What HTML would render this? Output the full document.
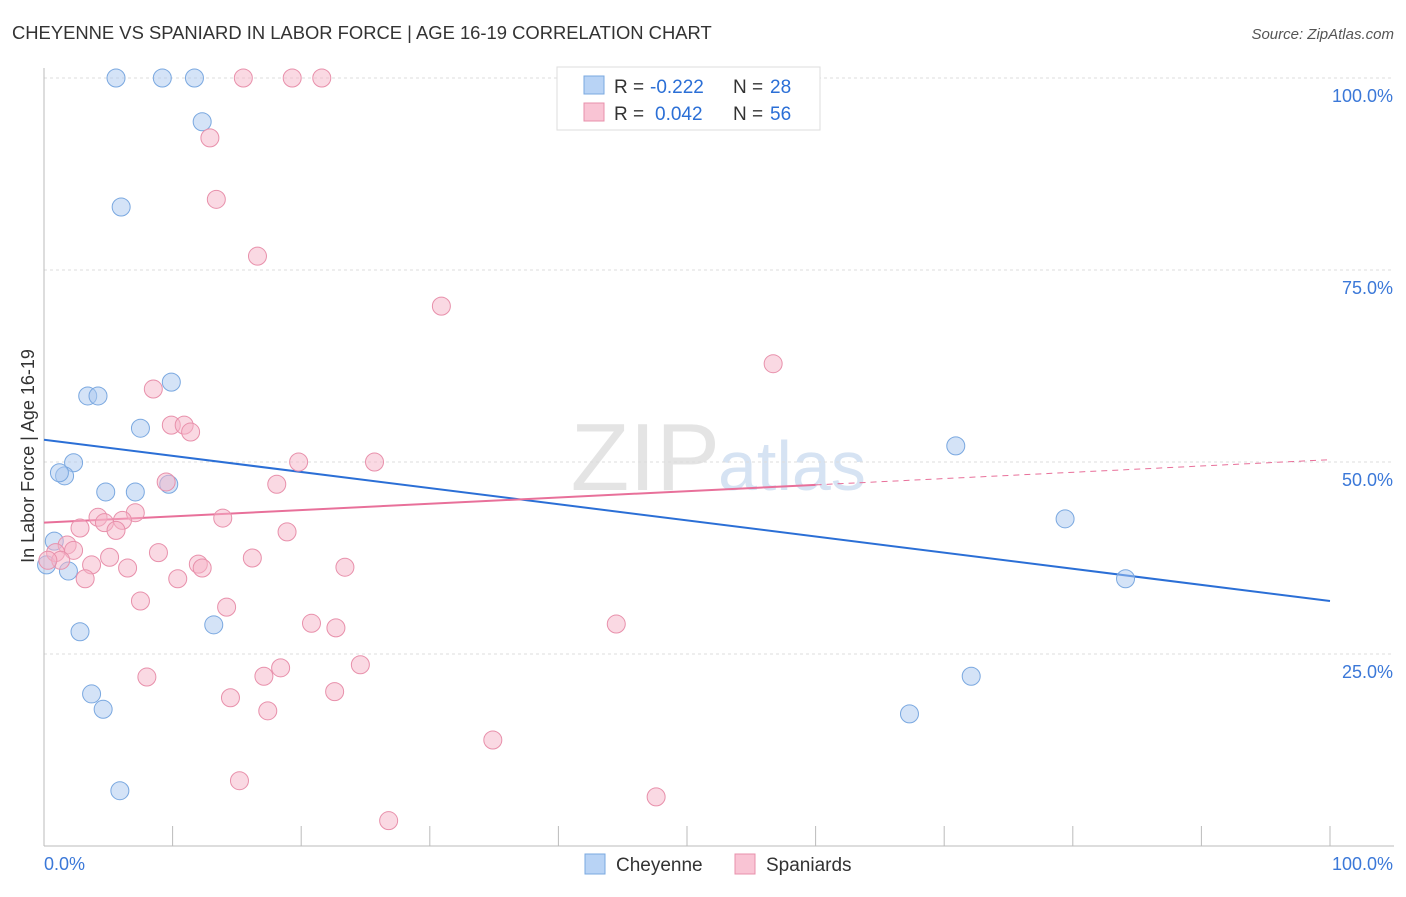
<!DOCTYPE html>
<html><head><meta charset="utf-8"><style>
body{margin:0;background:#fff;font-family:"Liberation Sans",sans-serif}
svg text{font-family:"Liberation Sans",sans-serif}
</style></head><body>
<svg id="chart" width="1406" height="892">
<text x="12" y="39" font-size="18.4" fill="#333">CHEYENNE VS SPANIARD IN LABOR FORCE | AGE 16-19 CORRELATION CHART</text>
<text x="1394" y="39" font-size="15" fill="#555" font-style="italic" text-anchor="end">Source: ZipAtlas.com</text>
<text x="720" y="490" font-size="96" fill="#e4e4e4" text-anchor="end" font-family="Liberation Serif">ZIP</text>
<text x="718" y="490" font-size="70" fill="#d6e3f3">atlas</text>
<g id="grid"></g><g id="axes"></g><g id="lines"></g><g id="pts"></g>
<text transform="translate(34,456) rotate(-90)" font-size="18" fill="#333" text-anchor="middle">In Labor Force | Age 16-19</text>
<g>
<rect x="557" y="67" width="263" height="63" fill="#fff" stroke="#ddd"/>
<rect x="584" y="76" width="20" height="18" fill="#b8d3f5" stroke="#7aa8e0"/>
<rect x="584" y="103" width="20" height="18" fill="#f9c4d4" stroke="#e890ab"/>
<text x="614" y="93" font-size="19" fill="#333">R =</text>
<text x="650" y="93" font-size="19" fill="#2b6fd6">-0.222</text>
<text x="733" y="93" font-size="19" fill="#333">N =</text>
<text x="770" y="93" font-size="19" fill="#2b6fd6">28</text>
<text x="614" y="120" font-size="19" fill="#333">R =</text>
<text x="655" y="120" font-size="19" fill="#2b6fd6">0.042</text>
<text x="733" y="120" font-size="19" fill="#333">N =</text>
<text x="770" y="120" font-size="19" fill="#2b6fd6">56</text>
</g>
<g>
<rect x="585" y="854" width="20" height="20" fill="#b8d3f5" stroke="#7aa8e0"/>
<text x="616" y="871" font-size="19" fill="#333">Cheyenne</text>
<rect x="735" y="854" width="20" height="20" fill="#f9c4d4" stroke="#e890ab"/>
<text x="766" y="871" font-size="19" fill="#333">Spaniards</text>
</g>
</svg>
<script>
const cheyX=[5.6,9.2,11.7,12.3,6.0,9.9,3.4,4.2,7.5,2.3,1.6,1.2,4.8,7.1,9.7,0.8,0.2,1.9,2.8,13.2,3.7,4.6,5.9,70.9,79.4,84.1,72.1,67.3];
const cheyY=[100,100,100,94.3,83.2,60.4,58.6,58.6,54.4,49.9,48.2,48.6,46.1,46.1,47.1,39.7,36.6,35.8,27.9,28.8,19.8,17.8,7.2,52.1,42.6,34.8,22.1,17.2];
const spanX=[15.5,19.3,21.6,40.7,12.9,13.4,16.6,30.9,56.7,8.5,9.9,10.9,11.4,19.8,25.7,9.5,18.1,4.2,7.1,6.1,2.8,4.7,5.6,13.9,18.9,1.8,2.3,0.9,1.3,8.9,5.1,16.2,12.0,12.3,3.7,6.5,23.4,3.2,10.4,7.5,14.2,20.8,22.7,44.5,18.4,24.6,8.0,17.1,22.6,14.5,17.4,34.9,15.2,47.6,26.8,0.3];
const spanY=[100,100,100,100,92.2,84.2,76.8,70.3,62.8,59.5,54.8,54.8,53.9,50.0,50.0,47.4,47.1,42.8,43.4,42.4,41.4,42.1,41.1,42.7,40.9,39.2,38.5,38.2,37.2,38.2,37.6,37.5,36.7,36.2,36.6,36.2,36.3,34.8,34.8,31.9,31.1,29.0,28.4,28.9,23.2,23.6,22.0,22.1,20.1,19.3,17.6,13.8,8.5,6.4,3.3,37.2];
const yTicks=[25,50,75,100];
const yTickLabels=["25.0%","50.0%","75.0%","100.0%"];
const xTicks=[0,10,20,30,40,50,60,70,80,90,100];
const cheyTrend=[52.9,31.9];
const spanTrend=[42.1,50.3];
const spanSolidEnd=60;
const sx=v=>44+v*12.86, sy=v=>846-v*7.68;
const NS="http://www.w3.org/2000/svg";
function mk(tag,attrs,parent){const e=document.createElementNS(NS,tag);for(const k in attrs)e.setAttribute(k,attrs[k]);document.getElementById(parent).appendChild(e);return e;}
yTicks.forEach((t,i)=>{
 const l=mk('line',{x1:44,x2:1394,y1:sy(t),y2:sy(t),stroke:'#ddd','stroke-dasharray':'3,3'},'grid');
 
 
 const tx=mk('text',{x:1393,y:sy(t)+24,'font-size':18,fill:'#3b78d8','text-anchor':'end'},'axes');
 tx.textContent=yTickLabels[i];
 
 
});
let ax=mk('line',{x1:44,x2:44,y1:68,y2:846,stroke:'#bbb'},'axes');


ax=mk('line',{x1:44,x2:1394,y1:846,y2:846,stroke:'#bbb'},'axes');


xTicks.forEach(t=>{const l=mk('line',{x1:sx(t),x2:sx(t),y1:826,y2:846,stroke:'#bbb'},'axes');
 
 });
let t0=mk('text',{x:44,y:870,'font-size':18,fill:'#3b78d8'},'axes');t0.textContent='0.0%';


let t1=mk('text',{x:1393,y:870,'font-size':18,fill:'#3b78d8','text-anchor':'end'},'axes');t1.textContent='100.0%';


function pts(X,Y,fill,stroke,name){X.forEach((x,i)=>{const c=mk('circle',{cx:sx(x),cy:sy(Y[i]),r:9,fill:fill,'fill-opacity':0.5,stroke:stroke,'stroke-width':1},'pts');
 
 });}
pts(cheyX,cheyY,'#a9c8f0','#7aa8e0','cheyenne-point');
pts(spanX,spanY,'#f5b3c8','#e890ab','spaniards-point');
let L=mk('line',{x1:sx(0),y1:sy(cheyTrend[0]),x2:sx(100),y2:sy(cheyTrend[1]),stroke:'#2b6fd6','stroke-width':2},'lines');


const sm=spanTrend[0]+(spanTrend[1]-spanTrend[0])*spanSolidEnd/100;
L=mk('line',{x1:sx(0),y1:sy(spanTrend[0]),x2:sx(spanSolidEnd),y2:sy(sm),stroke:'#e8709a','stroke-width':2},'lines');


L=mk('line',{x1:sx(spanSolidEnd),y1:sy(sm),x2:sx(100),y2:sy(spanTrend[1]),stroke:'#e8709a','stroke-width':1,'stroke-dasharray':'6,5'},'lines');


</script>
</body></html>
